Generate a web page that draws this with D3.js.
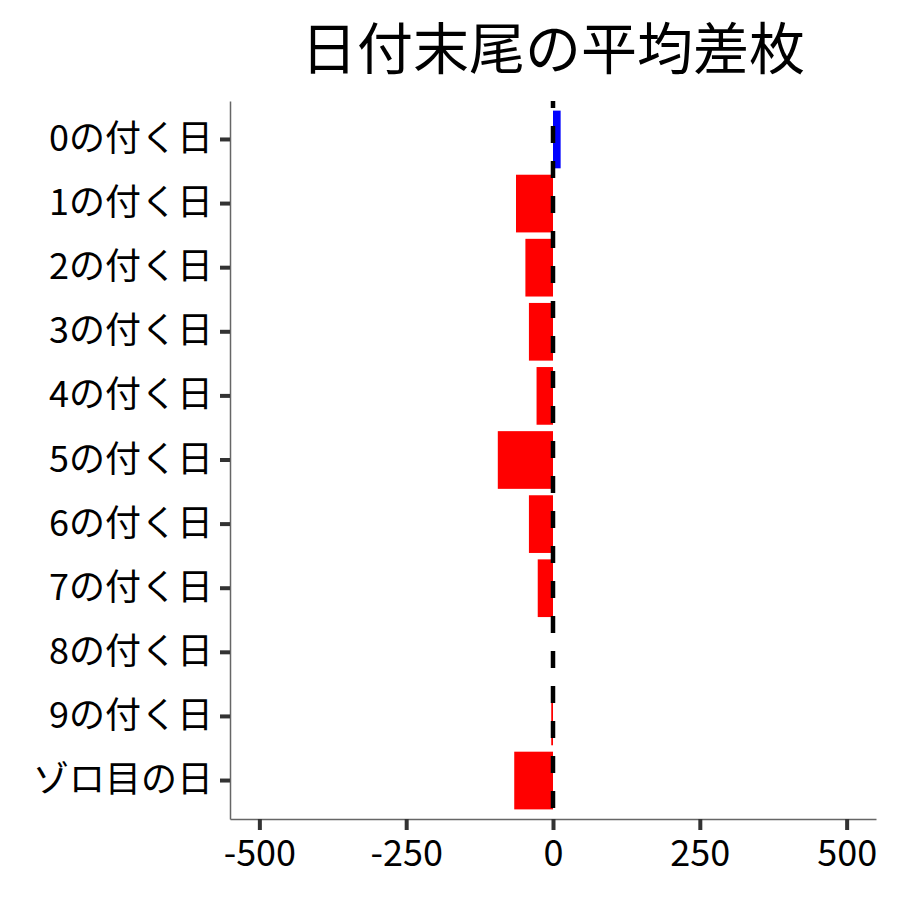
<!DOCTYPE html>
<html><head><meta charset="utf-8">
<script src="https://cdn.jsdelivr.net/npm/d3@7"></script>
<style>body{margin:0;background:#fff}text{font-family:"Noto Sans CJK JP","Noto Sans",sans-serif}</style>
</head><body>
<svg id="c" width="900" height="900"></svg>
<script>
const categories = ["0の付く日","1の付く日","2の付く日","3の付く日","4の付く日","5の付く日","6の付く日","7の付く日","8の付く日","9の付く日","ゾロ目の日"];
const values = [13, -63, -47, -41, -28, -94, -41, -26, 0, -3, -66];
const xTicks = [-500, -250, 0, 250, 500];
const title = "日付末尾の平均差枚";

const svg = d3.select("#c");
const m = {l:230, r:876, t:101, b:819};
const x = d3.scaleLinear().domain([-550, 550]).range([m.l, m.r]);
const y = d3.scaleBand().domain(categories).range([m.t, m.b]).paddingInner(0.1).paddingOuter(0.15);
const FONT = '"Noto Sans CJK JP","Noto Sans",sans-serif';

svg.append("text").attr("x", (m.l+m.r)/2).attr("y", 69).attr("text-anchor","middle")
  .attr("font-size", 56).attr("fill","#000").text(title);

svg.selectAll("rect.bar").data(categories).join("rect").attr("class","bar")
  .attr("x", (d,i)=>x(Math.min(0, values[i])))
  .attr("width", (d,i)=>Math.abs(x(values[i])-x(0)))
  .attr("y", d=>y(d)).attr("height", y.bandwidth())
  .attr("fill", (d,i)=>values[i] >= 0 ? "#0000FF" : "#FF0000");

svg.append("line").attr("x1", x(0)).attr("x2", x(0)).attr("y1", m.t).attr("y2", m.b)
  .attr("stroke","#000").attr("stroke-width",4.5).attr("stroke-dasharray","17,18").attr("stroke-dashoffset",10);

const xa = svg.append("g").attr("transform",`translate(0,${m.b})`)
  .call(d3.axisBottom(x).tickValues(xTicks).tickSize(11).tickSizeOuter(0).tickPadding(10).tickFormat(d=>String(d)));
xa.select(".domain").attr("stroke","#666").attr("stroke-width",1.5);
xa.selectAll(".tick line").attr("stroke","#333").attr("stroke-width",4);
xa.selectAll(".tick text").attr("font-size",36).attr("fill","#000").attr("font-family",FONT);

const ya = svg.append("g").attr("transform",`translate(${m.l},0)`)
  .call(d3.axisLeft(y).tickSize(10).tickSizeOuter(0).tickPadding(7));
ya.select(".domain").attr("stroke","#666").attr("stroke-width",1.5);
ya.selectAll(".tick line").attr("stroke","#333").attr("stroke-width",4);
ya.selectAll(".tick text").attr("font-size",36).attr("fill","#000").attr("font-family",FONT);
</script>
</body></html>
